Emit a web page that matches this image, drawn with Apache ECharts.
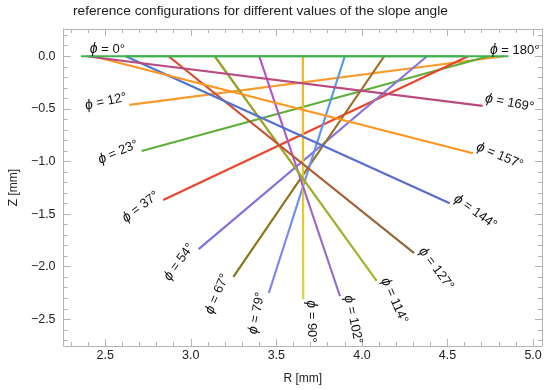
<!DOCTYPE html>
<html><head><meta charset="utf-8">
<script src="https://cdn.jsdelivr.net/npm/echarts@6/dist/echarts.min.js"></script>
<style>html,body{margin:0;padding:0;background:#fff}#c{width:550px;height:390px}</style>
</head><body><div id="c"></div>
<script>
// slope angles (deg)
const angles = [0, 12, 23, 37, 54, 67, 79, 90, 102, 114, 127, 144, 157, 169, 180];
// R where each configuration meets Z = 0
const topR = [4.60, 4.83, 4.74, 4.62, 4.38, 4.13, 3.90, 3.655, 3.40, 3.14, 2.87, 2.62, 2.43, 2.39, 2.62];
// free end of each configuration
const endR = [2.358, 2.641, 2.713, 2.839, 3.046, 3.249, 3.456, 3.657, 3.872, 4.086, 4.305, 4.513, 4.648, 4.705, 4.856];
const endZ = [0, -0.462, -0.90, -1.367, -1.833, -2.097, -2.25, -2.31, -2.281, -2.135, -1.871, -1.398, -0.922, -0.471, 0];
// tick labels
const xTickLabels = [2.5, 3.0, 3.5, 4.0, 4.5, 5.0];
const yTickLabels = [0, -0.5, -1.0, -1.5, -2.0, -2.5];

// styles
const colTop = ['#3fb350','#f99a2c','#5fae3a','#e8452a','#8e72d6','#a86a26','#4d9de8','#f6b325','#b850c8','#9a9a1e','#e54430','#4a78d2','#ff9520','#b84a80','#3fb350'];
const colEnd = ['#3fb350','#f99a2c','#5fae3a','#e8452a','#7a72e2','#807818','#8484f4','#d4d838','#9070cc','#a2b62a','#8c6a3a','#5a68cc','#ff9520','#b84a80','#3fb350'];

const XMIN = 2.257, XMAX = 5.052, YMIN = -2.754, YMAX = 0.259;
const FONT = 'Liberation Sans, Arial, sans-serif';
const FRAME = '#b4b4b4';
const minorX = [], minorY = [];
for (let k = 23; k <= 50; k++) minorX.push(k / 10);
for (let k = -27; k <= 2; k++) minorY.push(k / 10);

const fmt = v => (v < 0 ? '\u2212' : '') + Math.abs(v).toFixed(1);

function xAx(pos, major, labels) {
  return {
    type: 'value', min: XMIN, max: XMAX, position: pos, gridIndex: 0,
    axisLine: {show: major, onZero: false, lineStyle: {color: FRAME, width: 1}},
    axisTick: {show: true, inside: true, length: major ? 7 : 4, customValues: major ? xTickLabels : minorX,
      lineStyle: {color: FRAME}},
    axisLabel: {show: labels, customValues: xTickLabels, formatter: v => fmt(v), margin: 3,
      color: '#222', fontSize: 12.5, fontFamily: FONT},
    splitLine: {show: false},
    name: labels ? 'R [mm]' : '', nameLocation: 'middle', nameGap: 27,
    nameTextStyle: {color: '#222', fontSize: 12, fontFamily: FONT}
  };
}
function yAx(pos, major, labels) {
  return {
    type: 'value', min: YMIN, max: YMAX, position: pos, gridIndex: 0,
    axisLine: {show: major, onZero: false, lineStyle: {color: FRAME, width: 1}},
    axisTick: {show: true, inside: true, length: major ? 7 : 4, customValues: major ? yTickLabels : minorY,
      lineStyle: {color: FRAME}},
    axisLabel: {show: labels, customValues: yTickLabels, formatter: v => fmt(v), margin: 8,
      color: '#222', fontSize: 12.5, fontFamily: FONT},
    splitLine: {show: false},
    name: labels ? 'Z [mm]' : '', nameLocation: 'middle', nameGap: 40,
    nameTextStyle: {color: '#222', fontSize: 12, fontFamily: FONT}
  };
}

const series = [];
const order = [];
for (let i = 1; i < angles.length - 1; i++) order.push(i);
order.push(0, angles.length - 1);
order.forEach(i => {
  let color;
  if (endZ[i] === 0) color = colTop[i];
  else {
    const right = topR[i] > endR[i];
    color = new echarts.graphic.LinearGradient(right ? 1 : 0, 0, right ? 0 : 1, 1,
      [{offset: 0, color: colTop[i]}, {offset: 1, color: colEnd[i]}]);
  }
  series.push({
    type: 'line', xAxisIndex: 0, yAxisIndex: 0, showSymbol: false, symbol: 'none',
    animation: false, silent: true,
    data: [[topR[i], 0], [endR[i], endZ[i]]],
    lineStyle: {width: 2.2, color: color}
  });
});

const chart = echarts.init(document.getElementById('c'), null, {renderer: 'canvas'});
chart.setOption({
  animation: false,
  backgroundColor: '#fff',
  title: {text: 'reference configurations for different values of the slope angle', left: 73, top: 4, padding: 0,
    textStyle: {fontSize: 13.7, fontWeight: 'normal', color: '#222', fontFamily: FONT}},
  grid: {left: 56, right: 8, top: 29, bottom: 44, containLabel: false},
  xAxis: [xAx('bottom', true, true), xAx('bottom', false, false), xAx('top', true, false), xAx('top', false, false)],
  yAxis: [yAx('left', true, true), yAx('left', false, false), yAx('right', true, false), yAx('right', false, false)],
  series: series
});

// labels at the free ends
const graphics = [];
const LFS = 13;
const rich = {p: {fontStyle: 'italic', fontSize: LFS + 1, fontFamily: FONT, fill: '#111'}};
for (let i = 0; i < angles.length; i++) {
  const e = chart.convertToPixel({xAxisIndex: 0, yAxisIndex: 0}, [endR[i], endZ[i]]);
  const txt = '{p|\u03d5} = ' + angles[i] + '\u00b0';
  let x, y, rot = 0, align;
  if (angles[i] === 0) { x = e[0] + 9; y = e[1] - 7; align = 'left'; }
  else if (angles[i] === 180) { x = e[0] + 31; y = e[1] - 6; align = 'right'; }
  else {
    const t = chart.convertToPixel({xAxisIndex: 0, yAxisIndex: 0}, [topR[i], 0]);
    let dx = e[0] - t[0], dy = e[1] - t[1];
    const L = Math.hypot(dx, dy); dx /= L; dy /= L;
    const phi = angles[i];
    const r = (phi < 90 ? phi : phi - 180) * Math.PI / 180;
    const ux = -Math.sin(r), uy = -Math.cos(r);
    const off = 8;
    x = e[0] + ux * off + dx * 1;
    y = e[1] + uy * off + dy * 1;
    rot = r;
    align = phi < 90 ? 'right' : 'left';
  }
  graphics.push({
    type: 'text', x: x, y: y, rotation: rot, silent: true, z: 100,
    style: {text: txt, rich: rich, fontSize: LFS, fontFamily: FONT, fill: '#111', align: align, verticalAlign: 'middle'}
  });
}
chart.setOption({graphic: graphics});
</script>
</body></html>
